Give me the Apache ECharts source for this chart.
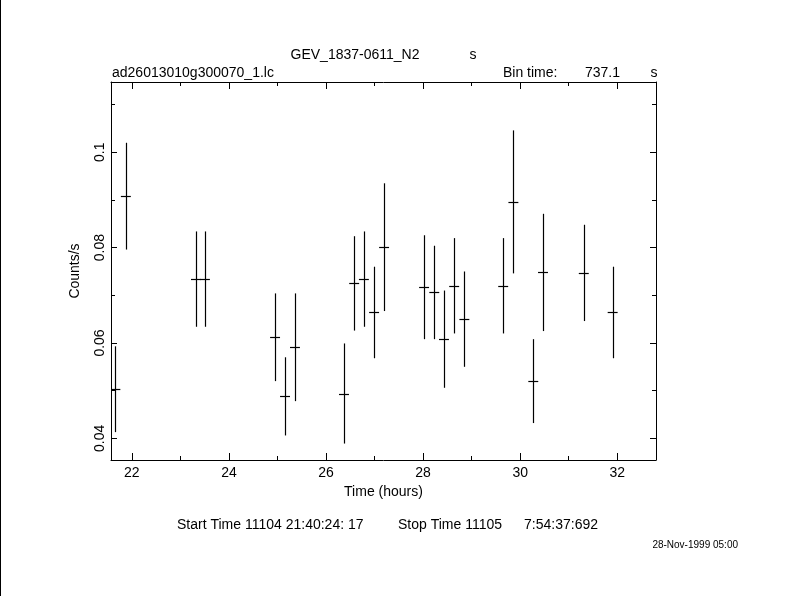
<!DOCTYPE html>
<html>
<head>
<meta charset="utf-8">
<script src="https://cdn.jsdelivr.net/npm/echarts@6/dist/echarts.min.js"></script>
<style>
html,body{margin:0;padding:0;background:#fff;}
#chart{width:790px;height:596px;}
</style>
</head>
<body>
<div id="chart"></div>
<script>
// ---- data ----
var times  = [21.66, 21.876, 23.32, 23.505, 24.95, 25.155, 25.36, 26.37, 26.58, 26.78, 26.99, 27.196,
              28.02, 28.23, 28.43, 28.64, 28.85, 29.65, 29.86, 30.27, 30.47, 31.31, 31.905];
var rates  = [0.0503, 0.0908, 0.0734, 0.0734, 0.0612, 0.0488, 0.0591, 0.0494, 0.0725, 0.0734, 0.0664, 0.0801,
              0.0717, 0.0706, 0.0608, 0.0720, 0.0650, 0.0720, 0.0896, 0.0520, 0.0748, 0.0747, 0.0664];
var errors = [0.0090, 0.0112, 0.0100, 0.0100, 0.0092, 0.0082, 0.0113, 0.0105, 0.0099, 0.0100, 0.0096, 0.0134,
              0.0109, 0.0098, 0.0102, 0.0100, 0.0100, 0.0100, 0.0150, 0.0088, 0.0123, 0.0101, 0.0096];
var binTime = 737.1; // seconds
var xMajorTicks = [22, 24, 26, 28, 30, 32];
var xMinorTicks = [23, 25, 27, 29, 31];
var yMajorTicks = [0.04, 0.06, 0.08, 0.1];
var yMinorTicks = [0.05, 0.07, 0.09, 0.11];
var yTickLabels = ['0.04', '0.06', '0.08', '0.1'];

var X_MIN = 21.57, X_MAX = 32.798, Y_MIN = 0.03545, Y_MAX = 0.11475;
var halfBin = binTime / 3600 / 2;
var FONT = 'Liberation Sans, Arial, sans-serif';

var seriesData = times.map(function (t, i) { return [t, rates[i], errors[i]]; });

function xAx(pos, ticks, len, withLine, withLabels) {
  return {
    type: 'value', position: pos, min: X_MIN, max: X_MAX,
    axisLine: { show: withLine, onZero: false, lineStyle: { color: '#000', width: 1 } },
    axisTick: { show: true, inside: true, length: len, customValues: ticks, lineStyle: { color: '#000', width: 1 } },
    axisLabel: withLabels ? { show: true, customValues: ticks, color: '#000', fontFamily: FONT, fontSize: 14, margin: 6 } : { show: false },
    splitLine: { show: false },
    name: withLabels ? 'Time (hours)' : '',
    nameLocation: 'middle', nameGap: 23,
    nameTextStyle: { color: '#000', fontFamily: FONT, fontSize: 14 }
  };
}
function yAx(pos, ticks, len, withLine, withLabels) {
  return {
    type: 'value', position: pos, min: Y_MIN, max: Y_MAX,
    axisLine: { show: withLine, onZero: false, lineStyle: { color: '#000', width: 1 } },
    axisTick: { show: true, inside: true, length: len, customValues: ticks, lineStyle: { color: '#000', width: 1 } },
    axisLabel: withLabels ? {
      show: true, customValues: ticks, rotate: 90, color: '#000', fontFamily: FONT, fontSize: 14, margin: 4,
      formatter: function (v) {
        for (var i = 0; i < yMajorTicks.length; i++) if (Math.abs(v - yMajorTicks[i]) < 1e-9) return yTickLabels[i];
        return '';
      }
    } : { show: false },
    splitLine: { show: false },
    name: withLabels ? 'Counts/s' : '',
    nameLocation: 'middle', nameGap: 29, nameRotate: 90,
    nameTextStyle: { color: '#000', fontFamily: FONT, fontSize: 14 }
  };
}

var chart = echarts.init(document.getElementById('chart'), null, { renderer: 'canvas' });
chart.setOption({
  backgroundColor: '#fff',
  animation: false,
  grid: { left: 111, top: 82, right: 134, bottom: 136, containLabel: false },
  xAxis: [
    xAx('bottom', xMajorTicks, 7, true, true),
    xAx('bottom', xMinorTicks, 4, false, false),
    xAx('top', xMajorTicks, 7, true, false),
    xAx('top', xMinorTicks, 4, false, false)
  ],
  yAxis: [
    yAx('left', yMajorTicks, 6, true, true),
    yAx('left', yMinorTicks, 4, false, false),
    yAx('right', yMajorTicks, 6, true, false),
    yAx('right', yMinorTicks, 4, false, false)
  ],
  series: [{
    type: 'custom',
    xAxisIndex: 0, yAxisIndex: 0,
    clip: true,
    data: seriesData,
    renderItem: function (params, api) {
      var t = api.value(0), v = api.value(1), e = api.value(2);
      var top = api.coord([t, v + e]), bot = api.coord([t, v - e]);
      var l = api.coord([t - halfBin, v]), r = api.coord([t + halfBin, v]);
      var st = { stroke: '#000', lineWidth: 1.2 };
      return {
        type: 'group',
        children: [
          { type: 'line', shape: { x1: Math.round(top[0]) + 0.5, y1: top[1], x2: Math.round(bot[0]) + 0.5, y2: bot[1] }, style: st },
          { type: 'line', shape: { x1: l[0], y1: Math.round(l[1]) + 0.5, x2: r[0], y2: Math.round(r[1]) + 0.5 }, style: st }
        ]
      };
    }
  }],
  graphic: [
    { type: 'rect', shape: { x: 0, y: 0, width: 1, height: 596 }, style: { fill: '#000' } },
    { type: 'text', x: 355, y: 55, style: { text: 'GEV_1837-0611_N2', fill: '#000', font: '14px ' + FONT, align: 'center', verticalAlign: 'middle' } },
    { type: 'text', x: 473, y: 55, style: { text: 's', fill: '#000', font: '14px ' + FONT, align: 'center', verticalAlign: 'middle' } },
    { type: 'text', x: 112, y: 73, style: { text: 'ad26013010g300070_1.lc', fill: '#000', font: '14px ' + FONT, align: 'left', verticalAlign: 'middle' } },
    { type: 'text', x: 503, y: 73, style: { text: 'Bin time:', fill: '#000', font: '14px ' + FONT, align: 'left', verticalAlign: 'middle' } },
    { type: 'text', x: 620, y: 73, style: { text: String(binTime), fill: '#000', font: '14px ' + FONT, align: 'right', verticalAlign: 'middle' } },
    { type: 'text', x: 654, y: 73, style: { text: 's', fill: '#000', font: '14px ' + FONT, align: 'center', verticalAlign: 'middle' } },
    { type: 'text', x: 177, y: 525, style: { text: 'Start Time 11104 21:40:24: 17', fill: '#000', font: '14px ' + FONT, align: 'left', verticalAlign: 'middle' } },
    { type: 'text', x: 398, y: 525, style: { text: 'Stop Time 11105', fill: '#000', font: '14px ' + FONT, align: 'left', verticalAlign: 'middle' } },
    { type: 'text', x: 598, y: 525, style: { text: '7:54:37:692', fill: '#000', font: '14px ' + FONT, align: 'right', verticalAlign: 'middle' } },
    { type: 'text', x: 738, y: 545, style: { text: '28-Nov-1999 05:00', fill: '#000', font: '10px ' + FONT, align: 'right', verticalAlign: 'middle' } }
  ]
});
</script>
</body>
</html>
